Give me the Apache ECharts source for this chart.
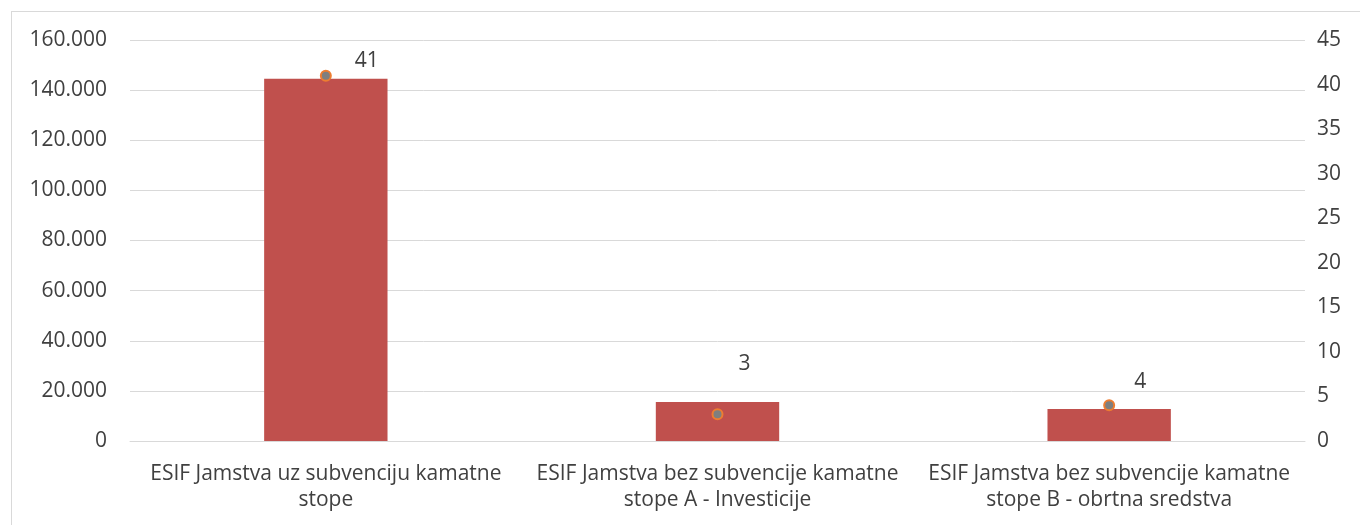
<!DOCTYPE html>
<html>
<head>
<meta charset="utf-8">
<script src="https://cdn.jsdelivr.net/npm/echarts@6/dist/echarts.min.js"></script>
<style>
html,body{margin:0;padding:0;background:#fff;}
#frame{position:absolute;left:11px;top:11px;width:1360px;height:525px;border:1px solid #d9d9d9;box-sizing:border-box;}
#chart{position:absolute;left:0;top:0;width:1360px;height:525px;}
</style>
</head>
<body>
<div id="frame"></div>
<div id="chart"></div>
<script>
const categories = [
  "ESIF Jamstva uz subvenciju kamatne\nstope",
  "ESIF Jamstva bez subvencije kamatne\nstope A - Investicije",
  "ESIF Jamstva bez subvencije kamatne\nstope B - obrtna sredstva"
];
const amounts = [144500, 15600, 12800];
const counts = [41, 3, 4];
const leftTicks = [0, 20000, 40000, 60000, 80000, 100000, 120000, 140000, 160000];
const rightTicks = [0, 5, 10, 15, 20, 25, 30, 35, 40, 45];

const labelOffsets = [[41, 7], [27, -29], [31, -2]];
const font = '"Open Sans", "Noto Sans", sans-serif';
const txt = '#404040';

const chart = echarts.init(document.getElementById('chart'), null, {renderer: 'canvas'});
chart.setOption({
  animation: false,
  textStyle: {fontFamily: font},
  grid: {left: 130, right: 55, top: 40, bottom: 84, containLabel: false},
  xAxis: {
    type: 'category',
    data: categories,
    axisLine: {show: true, lineStyle: {color: '#d9d9d9', width: 1}},
    axisTick: {show: false},
    axisLabel: {color: txt, fontSize: 21, fontFamily: font, lineHeight: 26, margin: 20, interval: 0}
  },
  yAxis: [
    {
      type: 'value', min: leftTicks[0], max: leftTicks[leftTicks.length - 1], interval: 20000,
      axisLine: {show: false}, axisTick: {show: false},
      splitLine: {lineStyle: {color: '#d9d9d9', width: 1}},
      axisLabel: {color: txt, fontSize: 21, fontFamily: font, margin: 23,
        formatter: v => v === 0 ? '0' : v.toLocaleString('en-US').replace(/,/g, '.')}
    },
    {
      type: 'value', min: rightTicks[0], max: rightTicks[rightTicks.length - 1], interval: 5,
      axisLine: {show: false}, axisTick: {show: false}, splitLine: {show: false},
      axisLabel: {color: txt, fontSize: 21, fontFamily: font, margin: 12}
    }
  ],
  series: [
    {
      type: 'bar', yAxisIndex: 0, data: amounts, barWidth: '31.5%',
      itemStyle: {color: '#C0504D'}
    },
    {
      type: 'line', yAxisIndex: 1,
      data: counts.map((v, i) => ({value: v, label: {offset: labelOffsets[i]}})),
      lineStyle: {width: 0, opacity: 0},
      symbol: 'circle', symbolSize: 10,
      itemStyle: {color: '#7f7f7f', borderColor: '#ED7D31', borderWidth: 2},
      label: {show: true, position: 'top', distance: 5, color: txt, fontSize: 21, fontFamily: font}
    }
  ]
});
</script>
</body>
</html>
